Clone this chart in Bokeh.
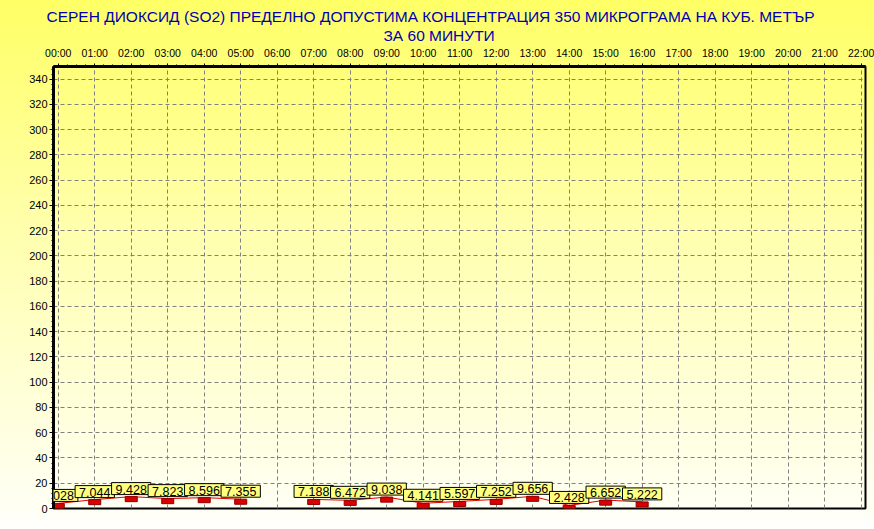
import math
from bokeh.plotting import figure
from bokeh.models import Range1d, LinearAxis, FixedTicker, Title, ColumnDataSource, Label
from bokeh.embed import file_html
from bokeh.resources import INLINE

title_line1 = "СЕРЕН ДИОКСИД  (SO2)  ПРЕДЕЛНО ДОПУСТИМА КОНЦЕНТРАЦИЯ 350 МИКРОГРАМА  НА КУБ. МЕТЪР"
title_line2 = "ЗА 60 МИНУТИ"

hours = [0, 1, 2, 3, 4, 5, 6, 7, 8, 9, 10, 11, 12, 13, 14, 15, 16]
so2 = [4.028, 7.044, 9.428, 7.823, 8.596, 7.355, float("nan"), 7.188, 6.472,
       9.038, 4.141, 5.597, 7.252, 9.656, 2.428, 6.652, 5.222]
hour_labels = ["%02d:00" % h for h in range(23)]
y_ticks = list(range(0, 341, 20))

FONT = "Liberation Sans"

valid = [(h, v) for h, v in zip(hours, so2) if not math.isnan(v)]
src = ColumnDataSource(dict(
    x=[h for h, v in valid],
    top=[v for h, v in valid],
    bottom=[v - 4 for h, v in valid],
))

p = figure(width=874, height=529, output_backend="svg", toolbar_location=None,
           x_range=Range1d(-0.13, 22.12), y_range=Range1d(0, 350),
           x_axis_location=None, y_axis_location="left",
           min_border_left=53, min_border_right=9, min_border_top=66, min_border_bottom=21)

p.background_fill_color = None
p.border_fill_color = None
p.styles = {"background": "linear-gradient(to bottom, #ffff66 0%, #ffffb0 45%, #fffff4 96%, #ffffff 100%)"}
p.outline_line_color = "black"
p.outline_line_width = 2

# top axis
xa = LinearAxis(ticker=FixedTicker(ticks=list(range(23)),
                                   minor_ticks=[i / 4 for i in range(0, 89)]))
xa.major_label_overrides = {i: hour_labels[i] for i in range(23)}
xa.axis_line_width = 3
xa.axis_line_color = "black"
xa.major_tick_out = 3
xa.major_tick_in = 0
xa.minor_tick_out = 2
xa.minor_tick_in = 0
xa.major_label_standoff = 5
xa.major_label_text_font = FONT
xa.major_label_text_font_size = "10.5px"
xa.major_label_text_color = "#000000"
p.add_layout(xa, "above")

ya = p.yaxis[0]
ya.ticker = FixedTicker(ticks=y_ticks, minor_ticks=list(range(0, 351, 4)))
ya.axis_line_width = 3
ya.axis_line_color = "black"
ya.major_tick_out = 4
ya.major_tick_in = 0
ya.minor_tick_out = 2
ya.minor_tick_in = 0
ya.major_label_standoff = 2
ya.major_label_text_font = FONT
ya.major_label_text_font_size = "11px"
ya.major_label_text_color = "#000000"

p.xgrid.ticker = FixedTicker(ticks=list(range(23)))
p.ygrid.ticker = FixedTicker(ticks=y_ticks)
for g in (p.xgrid[0], p.ygrid[0]):
    g.grid_line_color = "#808080"
    g.grid_line_dash = "4 3"
    g.grid_line_width = 1

t2 = Title(text=title_line2, align="left", text_font=FONT, text_font_size="15.5px",
           text_font_style="normal", text_color="#0000b0", standoff=0, offset=330)
t1 = Title(text=title_line1, align="left", text_font=FONT, text_font_size="15.5px",
           text_font_style="normal", text_color="#0000b0", standoff=0, offset=-7)
p.add_layout(t2, "above")
p.add_layout(t1, "above")

p.line(hours, so2, line_color="#e00000", line_width=1)
p.vbar(x="x", top="top", bottom="bottom", width=0.33, source=src,
       fill_color="#d80000", line_color="#900000", line_width=1)
for h, v in valid:
    p.add_layout(Label(x=h, y=v, text="%.3f" % v, level="overlay",
                       text_font=FONT, text_font_size="12.5px", text_color="black",
                       text_align="center", text_baseline="bottom", y_offset=2,
                       background_fill_color="#ffff80", border_line_color="black",
                       border_line_width=1,
                       padding=dict(left=4, right=4, top=2, bottom=1)))

open("out.html", "w").write(file_html(p, INLINE))
